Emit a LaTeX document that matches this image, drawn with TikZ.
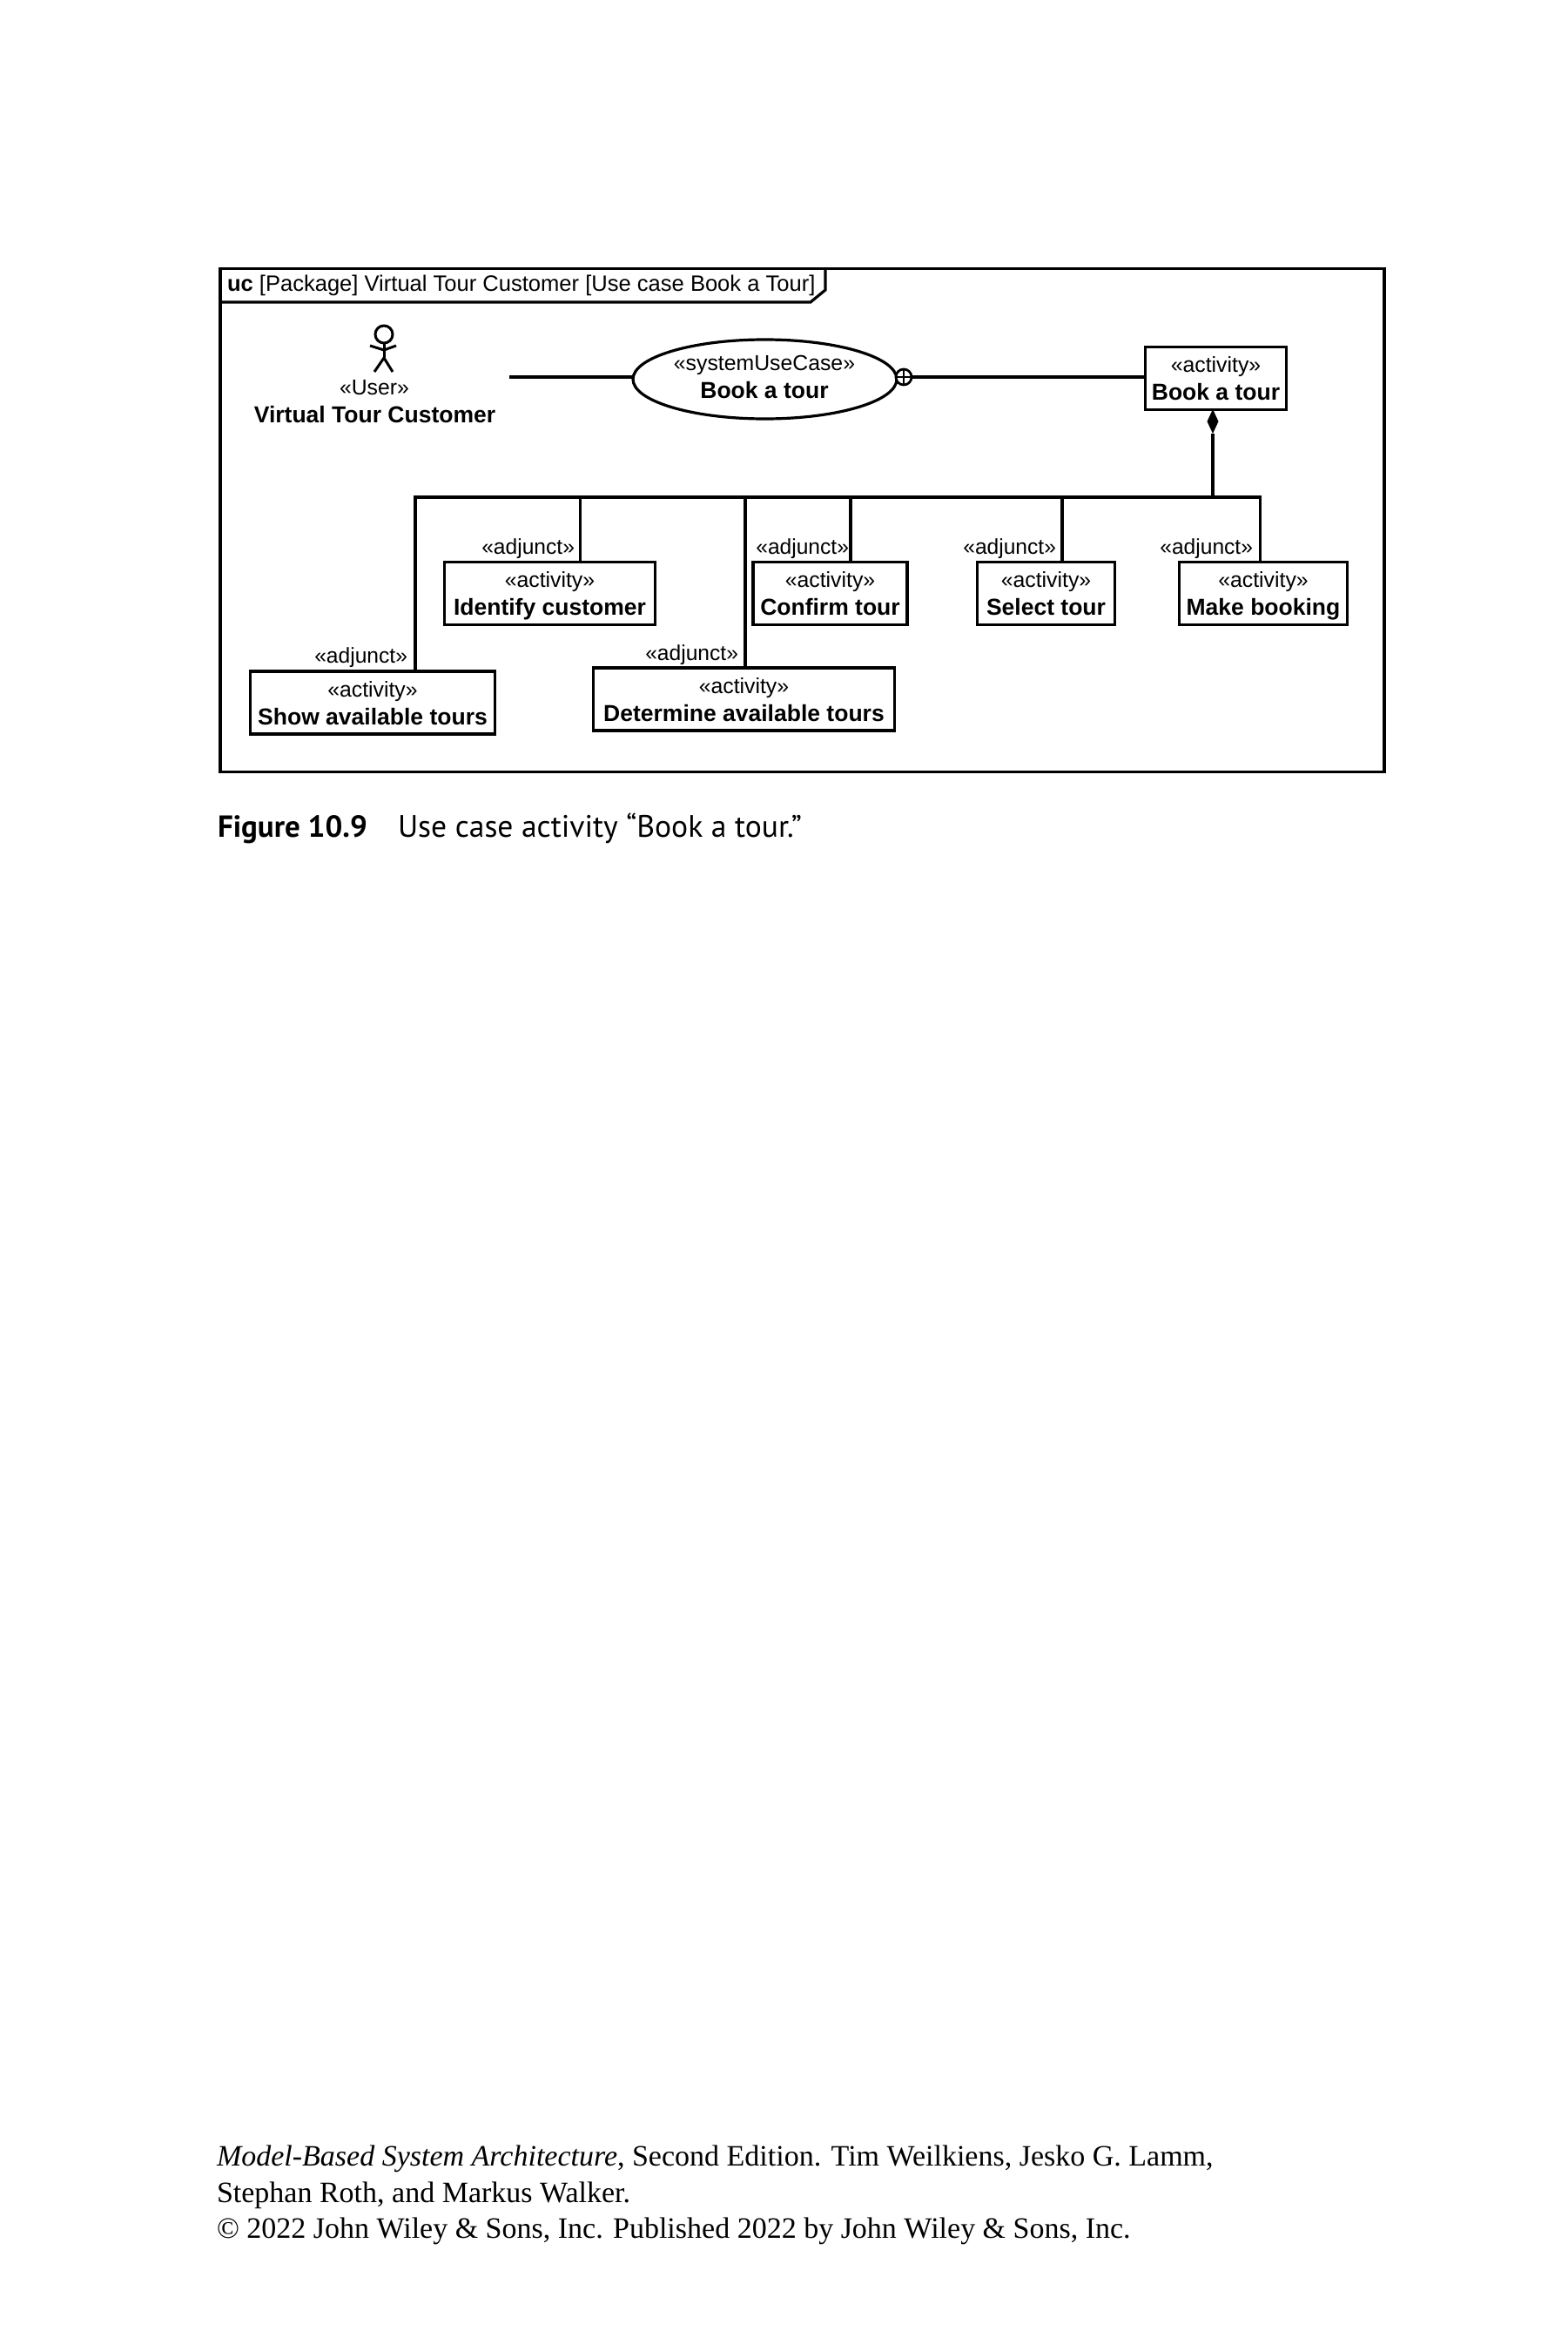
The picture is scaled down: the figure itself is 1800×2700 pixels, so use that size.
\documentclass[tikz,border=0pt]{standalone}
\usepackage{fontspec}
\setmainfont{Liberation Sans}
\newfontfamily\capfont{PT Sans}
\newfontfamily\footfont{Liberation Serif}
\usetikzlibrary{shapes.geometric}
\tikzset{
  x=1pt,y=-1pt,
  every node/.style={inner sep=0,outer sep=0},
  line/.style={line width=3.2pt,line cap=butt,line join=miter},
  lbl/.style={font=\fontsize{26.5}{30}\selectfont,align=center},
  box/.style={line,draw,fill=white,font=\fontsize{26.5}{30}\selectfont,align=center},
  adj/.style={font=\fontsize{24.6}{30}\selectfont,anchor=east},
  fnote/.style={font=\footfont\fontsize{34}{36}\selectfont,anchor=base west},
}
\newcommand{\st}[2]{{\fontsize{24.8}{30}\selectfont\rule{0pt}{27pt}\rule[-9pt]{0pt}{9pt}#1}\\[2pt]\textbf{\strut #2}}
\begin{document}
\begin{tikzpicture}
\useasboundingbox (0,0) rectangle (1800,2700);
\fill[white] (0,0) rectangle (1800,2700);
% frame
\node[line,draw,rectangle,minimum width=1337pt,minimum height=578pt] (frame) at (921.5,597.5) {};
\node[lbl,anchor=west,font=\fontsize{25.55}{30}\selectfont] (title) at (261,328) {\textbf{uc} [Package] Virtual Tour Customer [Use case Book a Tour]};
\coordinate (ntop) at (948,308);
\coordinate (nmid) at (948,333);
\coordinate (nbot) at (931,347);
\coordinate (nleft) at (253,347);
\draw[line] (ntop) -- (nmid) -- (nbot) -- (nleft);
% actor
\node[circle,line width=3pt,draw,minimum size=20pt] (head) at (441,384) {};
\coordinate (armL) at (425,397);
\coordinate (armM) at (441,402);
\coordinate (armR) at (455,397);
\coordinate (hip) at (441,411);
\coordinate (legL) at (430,427);
\coordinate (legR) at (451,427);
\draw[line width=3pt] (head.south) -- (hip);
\draw[line width=3pt] (armL) -- (armM) -- (armR);
\draw[line width=3pt] (legL) -- (hip) -- (legR);
\node[lbl] (user) at (430,445) {{\fontsize{24.8}{30}\selectfont «User»}};
\node[lbl] (vtc) at (430.5,476) {\textbf{Virtual Tour Customer}};
% use case
\node[ellipse,line,draw,minimum width=303pt,minimum height=91pt] (uc) at (878.5,435.5) {};
\node[lbl] (uctext) at (878,432) {\st{«systemUseCase»}{Book a tour}};
\coordinate (free) at (585,433);
\draw[line] (free) -- (free -| uc.west);
\node[circle,line width=2.8pt,draw,fill=white,minimum size=18pt] (plus) at (1038,433) {};
\draw[line width=2.4pt] (plus.north) -- (plus.south);
\draw[line width=2.4pt] (plus.west) -- (plus.east);
% activity
\node[box,minimum width=162pt,minimum height=72pt] (book) at (1396.5,434.5) {\st{«activity»}{Book a tour}};
\draw[line] (plus.east) -- (plus.east -| book.west);
\node[diamond,aspect=0.46,fill=black,minimum width=13pt,minimum height=28pt] (dia) at (1393,484) {};
% children
\node[box,minimum width=242pt,minimum height=72pt] (ident) at (631.5,681.5) {\st{«activity»}{Identify customer}};
\node[box,minimum width=177pt,minimum height=72pt] (conf) at (953.5,681.5) {\st{«activity»}{Confirm tour}};
\node[box,minimum width=158pt,minimum height=72pt] (sel) at (1201.5,681.5) {\st{«activity»}{Select tour}};
\node[box,minimum width=193pt,minimum height=72pt] (mk) at (1451,681.5) {\st{«activity»}{Make booking}};
\node[box,minimum width=281pt,minimum height=72pt] (show) at (428,807) {\st{«activity»}{Show available tours}};
\node[box,minimum width=346pt,minimum height=72pt] (det) at (854.5,803) {\st{«activity»}{Determine available tours}};
% tree
\coordinate (h1) at (477,571);
\coordinate (h2) at (666.5,571);
\coordinate (h3) at (856,571);
\coordinate (h4) at (977,571);
\coordinate (h5) at (1220,571);
\coordinate (h6) at (1393,571);
\coordinate (h7) at (1447.5,571);
\draw[line] (h1 |- show.north) -- (h1) -- (h7) -- (h7 |- mk.north);
\draw[line] (h2) -- (h2 |- ident.north);
\draw[line] (h3) -- (h3 |- det.north);
\draw[line] (h4) -- (h4 |- conf.north);
\draw[line] (h5) -- (h5 |- sel.north);
\draw[line] (h6) -- (dia.south);
% adjunct labels
\node[adj] (a1) at (468,755.5) {«adjunct»};
\node[adj] (a2) at (660,630.5) {«adjunct»};
\node[adj] (a3) at (848,752.5) {«adjunct»};
\node[adj] (a4) at (975,630.5) {«adjunct»};
\node[adj] (a5) at (1213,630.5) {«adjunct»};
\node[adj] (a6) at (1439,630.5) {«adjunct»};
% caption
\node[anchor=base west,font=\capfont\fontsize{35}{40}\selectfont] (c1) at (250,961) {\textbf{Figure 10.9}};
\node[anchor=base west,font=\capfont\fontsize{35.6}{40}\selectfont] (c2) at (457,961) {Use case activity “Book a tour.”};
% footer
\node[fnote] (f1) at (249,2487) {\textit{Model-Based System Architecture}, Second Edition. Tim Weilkiens, Jesko G. Lamm,};
\node[fnote] (f2) at (249,2529) {Stephan Roth, and Markus Walker.};
\node[fnote] (f3) at (249,2570) {© 2022 John Wiley \& Sons, Inc. Published 2022 by John Wiley \& Sons, Inc.};
\end{tikzpicture}
\end{document}
